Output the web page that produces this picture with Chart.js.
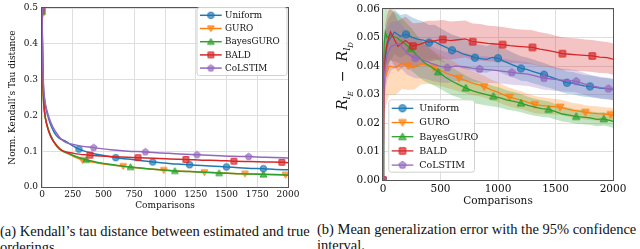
<!DOCTYPE html>
<html lang="en">
<head>
<meta charset="UTF-8">
<title>Kendall tau distance and generalization error</title>
<script src="https://cdn.jsdelivr.net/npm/chart.js"></script>
<style>
    body { margin: 0; width: 640px; height: 249px; overflow: hidden; background: #fff; position: relative; }
    .plot { position: absolute; top: 0; width: 320px; height: 215px; }
    #boxA { left: 0; }
    #boxB { left: 320px; }
    .cap { position: absolute; font-family: "Liberation Serif", serif; font-size: 14.5px; line-height: 16px; color: #111; white-space: nowrap; }
    #capA { left: 0; top: 223px; }
    #capB { left: 317px; top: 221px; }
</style>
</head>
<body>
<div class="plot" id="boxA"><canvas id="kendallChart" width="320" height="215"></canvas></div>
<div class="plot" id="boxB"><canvas id="errorChart" width="320" height="215"></canvas></div>
<div class="cap" id="capA">(a) Kendall’s tau distance between estimated and true<br>orderings</div>
<div class="cap" id="capB">(b) Mean generalization error with the 95% confidence<br>interval.</div>

<script>
// ---- data ----
const methods = ["Uniform", "GURO", "BayesGURO", "BALD", "CoLSTIM"];
const colors = ["#1f77b4", "#ff7f0e", "#2ca02c", "#d62728", "#9467bd"];
const shapes = ["circle", "triangleDown", "triangle", "square", "pentagon"];

// sampling step of each curve and spacing of its markers
const tauStep = [100, 110, 120, 130, 140];
const tauMarkStep = [300, 330, 360, 390, 420];
const errStep = [50, 55, 60, 65, 70];
const errMarkStep = [200, 220, 240, 260, 280];
const earlyX = [5, 10, 20, 35];

// (a) normalized Kendall tau distance
const tauUniform = [0.49, 0.36, 0.29, 0.245, 0.215,
    0.152, 0.126, 0.106, 0.095, 0.088, 0.082, 0.078, 0.074, 0.070, 0.067,
    0.064, 0.062, 0.060, 0.058, 0.056, 0.054, 0.052, 0.051, 0.049, 0.048];
const tauGuro = [0.48, 0.33, 0.26, 0.21, 0.18,
    0.118, 0.092, 0.075, 0.068, 0.062, 0.058, 0.054, 0.050, 0.047, 0.045,
    0.043, 0.041, 0.040, 0.038, 0.037, 0.036, 0.035, 0.034, 0.0335];
const tauBayes = [0.49, 0.33, 0.26, 0.21, 0.18,
    0.115, 0.090, 0.076, 0.067, 0.061, 0.056, 0.052, 0.048, 0.045, 0.043,
    0.041, 0.039, 0.038, 0.036, 0.035, 0.034, 0.033];
const tauBald = [0.50, 0.34, 0.27, 0.215, 0.18,
    0.112, 0.094, 0.089, 0.086, 0.084, 0.082, 0.080, 0.078, 0.077, 0.075,
    0.074, 0.072, 0.071, 0.070, 0.069, 0.068];
const tauColstim = [0.50, 0.37, 0.30, 0.25, 0.22,
    0.140, 0.117, 0.110, 0.104, 0.100, 0.098, 0.095, 0.092, 0.090, 0.088,
    0.086, 0.085, 0.083, 0.082, 0.081];

// (b) mean generalization error and half width of the 95% interval
const errUniform = [0, 0.030, 0.038, 0.043, 0.047,
    0.0490, 0.0520, 0.0505, 0.0512, 0.0502, 0.0495, 0.0492, 0.0483, 0.0486, 0.0475,
    0.0466, 0.0456, 0.0452, 0.0442, 0.0437, 0.0430, 0.0427, 0.0424, 0.0431, 0.0428,
    0.0418, 0.0409, 0.0401, 0.0392, 0.0389, 0.0382, 0.0376, 0.0370, 0.0363, 0.0356,
    0.0349, 0.0342, 0.0341, 0.0335, 0.0331, 0.0329, 0.0326, 0.0322, 0.0321, 0.0318];
const hwUniform = [0, 0.010, 0.010, 0.009, 0.0085,
    0.0080, 0.0078, 0.0075, 0.0072, 0.0070, 0.0068, 0.0065, 0.0062, 0.0060, 0.0058,
    0.0056, 0.0055, 0.0053, 0.0052, 0.0050, 0.0049, 0.0048, 0.0047, 0.0046, 0.0045,
    0.0045, 0.0044, 0.0043, 0.0043, 0.0042, 0.0042, 0.0041, 0.0041, 0.0040, 0.0040,
    0.0040, 0.0039, 0.0039, 0.0039, 0.0038, 0.0038, 0.0038, 0.0037, 0.0037, 0.0037];
const errGuro = [0, 0.028, 0.033, 0.036, 0.038,
    0.0400, 0.0395, 0.0410, 0.0401, 0.0398, 0.0408, 0.0404, 0.0395, 0.0386, 0.0376,
    0.0368, 0.0358, 0.0350, 0.0341, 0.0335, 0.0328, 0.0318, 0.0310, 0.0300, 0.0291,
    0.0285, 0.0280, 0.0272, 0.0265, 0.0262, 0.0260, 0.0258, 0.0256, 0.0250, 0.0245,
    0.0242, 0.0238, 0.0235, 0.0233, 0.0232, 0.0230, 0.0228];
const hwGuro = [0, 0.012, 0.012, 0.011, 0.0105,
    0.0100, 0.0095, 0.0090, 0.0085, 0.0080, 0.0072, 0.0066, 0.0060, 0.0055, 0.0052,
    0.0050, 0.0047, 0.0045, 0.0042, 0.0040, 0.0038, 0.0036, 0.0035, 0.0034, 0.0033,
    0.0032, 0.0031, 0.0030, 0.0030, 0.0029, 0.0028, 0.0028, 0.0027, 0.0027, 0.0026,
    0.0026, 0.0025, 0.0025, 0.0025, 0.0024, 0.0024, 0.0024];
const errBayes = [0, 0.040, 0.048, 0.052, 0.050,
    0.0510, 0.0500, 0.0482, 0.0462, 0.0436, 0.0412, 0.0397, 0.0380, 0.0362, 0.0347,
    0.0335, 0.0323, 0.0313, 0.0306, 0.0300, 0.0294, 0.0289, 0.0281, 0.0276, 0.0270,
    0.0262, 0.0256, 0.0251, 0.0248, 0.0240, 0.0232, 0.0228, 0.0223, 0.0221, 0.0218,
    0.0213, 0.0215, 0.0209, 0.0206];
const hwBayes = [0, 0.012, 0.011, 0.010, 0.0095,
    0.0090, 0.0085, 0.0080, 0.0075, 0.0070, 0.0065, 0.0060, 0.0056, 0.0052, 0.0049,
    0.0046, 0.0044, 0.0042, 0.0040, 0.0038, 0.0036, 0.0035, 0.0034, 0.0033, 0.0032,
    0.0031, 0.0030, 0.0029, 0.0028, 0.0027, 0.0026, 0.0026, 0.0025, 0.0025, 0.0024,
    0.0024, 0.0023, 0.0023, 0.0023];
const errBald = [0, 0, 0.035, 0.044, 0.048,
    0.0520, 0.0470, 0.0490, 0.0471, 0.0478, 0.0488, 0.0490, 0.0494, 0.0490, 0.0493,
    0.0496, 0.0486, 0.0484, 0.0480, 0.0478, 0.0476, 0.0472, 0.0470, 0.0468, 0.0466,
    0.0460, 0.0456, 0.0450, 0.0444, 0.0442, 0.0440, 0.0438, 0.0436, 0.0432, 0.0430,
    0.0425];
const hwBald = [0, 0, 0.012, 0.011, 0.010,
    0.0095, 0.0090, 0.0085, 0.0080, 0.0075, 0.0072, 0.0070, 0.0068, 0.0067, 0.0066,
    0.0065, 0.0064, 0.0064, 0.0063, 0.0062, 0.0062, 0.0061, 0.0060, 0.0060, 0.0060,
    0.0059, 0.0059, 0.0058, 0.0058, 0.0057, 0.0057, 0.0056, 0.0056, 0.0056, 0.0055,
    0.0055];
const errColstim = [0, 0.025, 0.035, 0.040, 0.044,
    0.0470, 0.0480, 0.0445, 0.0428, 0.0422, 0.0410, 0.0400, 0.0395, 0.0400, 0.0398,
    0.0393, 0.0390, 0.0388, 0.0385, 0.0382, 0.0378, 0.0375, 0.0372, 0.0365, 0.0358,
    0.0355, 0.0352, 0.0350, 0.0347, 0.0338, 0.0330, 0.0325, 0.0321, 0.0318];
const hwColstim = [0, 0.010, 0.010, 0.0095, 0.009,
    0.0085, 0.0080, 0.0075, 0.0070, 0.0065, 0.0060, 0.0057, 0.0054, 0.0052, 0.0050,
    0.0048, 0.0047, 0.0046, 0.0045, 0.0044, 0.0043, 0.0042, 0.0042, 0.0041, 0.0041,
    0.0040, 0.0040, 0.0040, 0.0039, 0.0039, 0.0038, 0.0038, 0.0038, 0.0038];

const tauValues = [tauUniform, tauGuro, tauBayes, tauBald, tauColstim];
const errValues = [errUniform, errGuro, errBayes, errBald, errColstim];
const errHalfWidth = [hwUniform, hwGuro, hwBayes, hwBald, hwColstim];

// ---- helpers ----
function sampleX(step) {
    const xs = [0].concat(earlyX);
    for (let x = step; x < 2000; x += step) xs.push(x);
    xs.push(2000);
    return xs;
}

function rgba(hex, a) {
    const n = parseInt(hex.slice(1), 16);
    return `rgba(${n >> 16},${(n >> 8) & 255},${n & 255},${a})`;
}

// marker drawn once into a small canvas, used as pointStyle and in the legend
function markerImage(shape, color, r) {
    const s = Math.ceil(2 * r + 4);
    const c = document.createElement("canvas");
    c.width = s; c.height = s;
    const g = c.getContext("2d");
    const m = s / 2;
    g.beginPath();
    if (shape === "circle") {
        g.arc(m, m, r, 0, 2 * Math.PI);
    } else if (shape === "square") {
        g.rect(m - r * 0.88, m - r * 0.88, r * 1.76, r * 1.76);
    } else {
        const sides = shape === "pentagon" ? 5 : 3;
        const start = shape === "triangleDown" ? Math.PI / 2 : -Math.PI / 2;
        const rr = shape === "pentagon" ? r * 1.05 : r * 1.2;
        const dy = shape === "triangle" ? r * 0.2 : shape === "triangleDown" ? -r * 0.2 : 0;
        for (let k = 0; k < sides; k++) {
            const a = start + k * 2 * Math.PI / sides;
            const px = m + rr * Math.cos(a), py = m + dy + rr * Math.sin(a);
            if (k) g.lineTo(px, py); else g.moveTo(px, py);
        }
        g.closePath();
    }
    g.fillStyle = rgba(color, 0.65);
    g.fill();
    g.strokeStyle = color;
    g.lineWidth = 1;
    g.stroke();
    return c;
}

const tauMarks = methods.map((m, i) => markerImage(shapes[i], colors[i], 3.2));
const errMarks = methods.map((m, i) => markerImage(shapes[i], colors[i], 3.6));

function framePlugin() {
    return {
        id: "frame",
        afterDatasetsDraw(chart) {
            const a = chart.chartArea, ctx = chart.ctx;
            ctx.save();
            ctx.strokeStyle = "#555";
            ctx.lineWidth = 1;
            ctx.strokeRect(Math.round(a.left) - 0.5, Math.round(a.top) - 0.5,
                Math.round(a.right - a.left) + 1, Math.round(a.bottom - a.top) + 1);
            ctx.restore();
        }
    };
}

function legendPlugin(cfg, marks) {
    return {
        id: "boxLegend",
        afterDraw(chart) {
            const ctx = chart.ctx;
            ctx.save();
            ctx.fillStyle = "rgba(255,255,255,0.85)";
            ctx.strokeStyle = "#d0d0d0";
            ctx.lineWidth = 1;
            ctx.beginPath();
            ctx.roundRect(cfg.x + 0.5, cfg.y + 0.5, cfg.w, cfg.h, 2.5);
            ctx.fill();
            ctx.stroke();
            ctx.font = cfg.size + 'px "DejaVu Serif"';
            ctx.textBaseline = "middle";
            methods.forEach((name, i) => {
                const y = cfg.firstY + i * cfg.row;
                ctx.strokeStyle = colors[i];
                ctx.lineWidth = cfg.lw;
                ctx.beginPath();
                ctx.moveTo(cfg.lineX, y);
                ctx.lineTo(cfg.lineX + cfg.len, y);
                ctx.stroke();
                const img = marks[i];
                ctx.drawImage(img, cfg.lineX + cfg.len / 2 - img.width / 2, y - img.height / 2);
                ctx.fillStyle = "#111";
                ctx.fillText(name, cfg.textX, y + 0.5);
            });
            ctx.restore();
        }
    };
}

const tickFont = (size, lh) => ({ family: "DejaVu Serif", size: size, lineHeight: lh || 1.2 });

// ---- (a) Kendall tau chart ----
const tauDatasets = methods.map((name, i) => {
    const xs = sampleX(tauStep[i]);
    const step = tauMarkStep[i];
    return {
        label: name,
        data: xs.map((x, k) => ({ x: x, y: tauValues[i][k] })),
        borderColor: colors[i],
        borderWidth: 1.5,
        cubicInterpolationMode: "monotone",
        pointRadius: c => (c.raw && c.raw.x % step === 0 && c.raw.x < 2000) ? 3.2 : 0,
        pointStyle: tauMarks[i],
        order: 10 - i,
        fill: false
    };
});

new Chart(document.getElementById("kendallChart"), {
    type: "line",
    data: { datasets: tauDatasets },
    options: {
        responsive: false,
        animation: false,
        events: [],
        layout: { padding: { top: 0, right: 32, left: 0, bottom: 0 } },
        plugins: { legend: { display: false }, tooltip: { enabled: false } },
        scales: {
            x: {
                type: "linear", min: 0, max: 2000,
                ticks: { stepSize: 250, font: tickFont(9), color: "#111", padding: 2, maxRotation: 0, callback: v => String(v) },
                grid: { color: "#dedede", drawTicks: false },
                border: { display: false },
                title: { display: true, text: "Comparisons", font: tickFont(9), color: "#111", padding: { top: 0, bottom: 3.5 } },
                afterFit: s => { s.height = 28; }
            },
            y: {
                min: 0, max: 0.5,
                ticks: { stepSize: 0.1, font: tickFont(9, 0.9), color: "#111", padding: 4, callback: v => v.toFixed(1) },
                grid: { color: "#dedede", drawTicks: false },
                border: { display: false },
                title: { display: true, text: "Norm. Kendall’s Tau distance", font: tickFont(9), color: "#111", padding: { top: 7.5, bottom: 0 } },
                afterFit: s => { s.width = 42; }
            }
        }
    },
    plugins: [framePlugin(), legendPlugin({
        x: 196.5, y: 7, w: 90, h: 68, firstY: 15.3, row: 13.2,
        lineX: 200, len: 21.7, textX: 225, size: 8.8, lw: 1.5
    }, tauMarks)]
});

// ---- (b) generalization error chart ----
const errDatasets = [];
methods.forEach((name, i) => {
    const xs = sampleX(errStep[i]);
    errDatasets.push({
        label: name + " low",
        data: xs.map((x, k) => ({ x: x, y: errValues[i][k] - errHalfWidth[i][k] })),
        borderWidth: 0, pointRadius: 0, fill: false, order: 50 - i
    });
    errDatasets.push({
        label: name + " high",
        data: xs.map((x, k) => ({ x: x, y: errValues[i][k] + errHalfWidth[i][k] })),
        borderWidth: 0, pointRadius: 0, fill: "-1",
        backgroundColor: rgba(colors[i], 0.28), order: 50 - i
    });
});
methods.forEach((name, i) => {
    const xs = sampleX(errStep[i]);
    const step = errMarkStep[i];
    errDatasets.push({
        label: name,
        data: xs.map((x, k) => ({ x: x, y: errValues[i][k] })),
        borderColor: colors[i],
        borderWidth: 1.3,
        pointRadius: c => (c.raw && c.raw.x % step === 0 && c.raw.x < 2000) ? 3.6 : 0,
        pointStyle: errMarks[i],
        order: 10 - i,
        fill: false
    });
});

// y label R_{l_E} - R_{l_D}, drawn piece by piece for the subscripts
const errAxisLabel = {
    id: "errAxisLabel",
    afterDraw(chart) {
        const ctx = chart.ctx;
        const big = 'italic 14px "DejaVu Serif"', sub = 'italic 10px "DejaVu Serif"', sub2 = 'italic 7px "DejaVu Serif"';
        const parts = [
            ["R", big, 0, 0], ["l", sub, 3, 0], ["E", sub2, 5.5, 0],
            ["−", '14px "DejaVu Serif"', 0, 9], ["R", big, 0, 9],
            ["l", sub, 3, 0], ["D", sub2, 5.5, 0]
        ];
        ctx.save();
        let total = 0;
        parts.forEach(p => { ctx.font = p[1]; total += p[3] + ctx.measureText(p[0]).width; });
        ctx.translate(22, 76);
        ctx.rotate(-Math.PI / 2);
        ctx.fillStyle = "#111";
        ctx.textBaseline = "alphabetic";
        let x = -total / 2;
        parts.forEach(p => {
            ctx.font = p[1];
            x += p[3];
            ctx.fillText(p[0], x, 5 + p[2]);
            x += ctx.measureText(p[0]).width;
        });
        ctx.restore();
    }
};

new Chart(document.getElementById("errorChart"), {
    type: "line",
    data: { datasets: errDatasets },
    options: {
        responsive: false,
        animation: false,
        events: [],
        layout: { padding: { top: 8, right: 27, left: 0, bottom: 0 } },
        plugins: { legend: { display: false }, tooltip: { enabled: false } },
        scales: {
            x: {
                type: "linear", min: 0, max: 2000,
                ticks: { stepSize: 500, font: tickFont(10.5), color: "#111", padding: 3, maxRotation: 0, callback: v => String(v) },
                grid: { color: "#dedede", drawTicks: false },
                border: { display: false },
                title: { display: true, text: "Comparisons", font: tickFont(10.5), color: "#111", padding: { top: 0, bottom: 7 } },
                afterFit: s => { s.height = 35; }
            },
            y: {
                min: 0, max: 0.06,
                ticks: { stepSize: 0.01, font: tickFont(10.5), color: "#111", padding: 3, callback: v => v.toFixed(2) },
                grid: { color: "#dedede", drawTicks: false },
                border: { display: false },
                afterFit: s => { s.width = 63; }
            }
        }
    },
    plugins: [framePlugin(), errAxisLabel, legendPlugin({
        x: 68.3, y: 99.3, w: 85.7, h: 72.4, firstY: 108.3, row: 14.2,
        lineX: 71.7, len: 21.6, textX: 99.3, size: 9.5, lw: 1.3
    }, errMarks)]
});
</script>
</body>
</html>
